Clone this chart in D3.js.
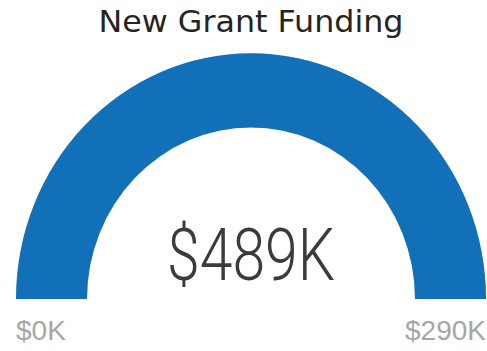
<!DOCTYPE html>
<html>
<head>
<meta charset="utf-8">
<script src="https://cdn.jsdelivr.net/npm/d3@7"></script>
<style>
  html, body { margin: 0; padding: 0; background: #ffffff; }
  svg { display: block; }
</style>
</head>
<body>
<svg id="chart" width="487" height="351"></svg>
<script>
// Gauge inputs (thousands of dollars)
const title = ["New Grant Funding"];
const gaugeMin = [0];
const gaugeMax = [290];
const gaugeValue = [489];
const tickLabels = ["$0K", "$290K"];

const fmt = v => "$" + d3.format("d")(v) + "K";

const svg = d3.select("#chart");
const cx = 251, cy = 299;
const outerR = 235, innerR = 164;

// angle scale: min at left (-90°), max at right (+90°)
const angle = d3.scaleLinear()
  .domain([gaugeMin[0], gaugeMax[0]])
  .range([-Math.PI / 2, Math.PI / 2])
  .clamp(true);

const arc = d3.arc().innerRadius(innerR).outerRadius(outerR);

const g = svg.append("g")
  .attr("transform", `translate(${cx},${cy}) scale(1,1.045)`);

// track
g.append("path")
  .attr("d", arc({ startAngle: angle(gaugeMin[0]), endAngle: angle(gaugeMax[0]) }))
  .attr("fill", "#e6e6e6");

// value fill
g.append("path")
  .attr("d", arc({ startAngle: angle(gaugeMin[0]), endAngle: angle(gaugeValue[0]) }))
  .attr("fill", "#1170b8");

// title
svg.append("text")
  .attr("x", cx).attr("y", 32)
  .attr("text-anchor", "middle")
  .attr("font-family", "'DejaVu Sans', sans-serif")
  .attr("font-size", 30)
  .attr("textLength", 305)
  .attr("lengthAdjust", "spacingAndGlyphs")
  .attr("fill", "#252423")
  .text(title[0]);

// center value
svg.append("text")
  .attr("x", cx).attr("y", 280)
  .attr("text-anchor", "middle")
  .attr("font-family", "Roboto, 'Open Sans', sans-serif")
  .attr("font-weight", 300)
  .attr("font-size", 72)
  .attr("textLength", 168)
  .attr("lengthAdjust", "spacingAndGlyphs")
  .attr("fill", "#3b3b3b")
  .text(fmt(gaugeValue[0]));

// min / max labels
svg.append("text")
  .attr("x", cx - outerR).attr("y", 340)
  .attr("text-anchor", "start")
  .attr("font-family", "'Liberation Sans', Arial, sans-serif")
  .attr("font-size", 28)
  .attr("fill", "#a6a6a6")
  .text(tickLabels[0]);

svg.append("text")
  .attr("x", cx + outerR).attr("y", 340)
  .attr("text-anchor", "end")
  .attr("font-family", "'Liberation Sans', Arial, sans-serif")
  .attr("font-size", 28)
  .attr("fill", "#a6a6a6")
  .text(tickLabels[1]);
</script>
</body>
</html>
